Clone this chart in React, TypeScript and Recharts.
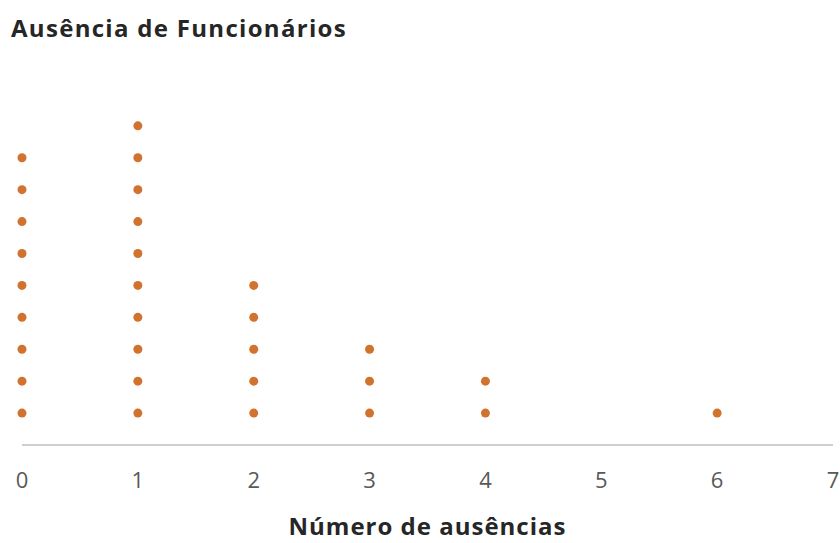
import React from 'react'
import { ScatterChart, Scatter, XAxis, YAxis, Label } from 'recharts'

// número de ausências e quantos funcionários tiveram cada um
const absences = [0, 1, 2, 3, 4, 5, 6, 7]
const employees = [9, 10, 5, 3, 2, 0, 1, 0]
const xTicks = [0, 1, 2, 3, 4, 5, 6, 7]

const dots: { x: number; y: number }[] = []
absences.forEach((a, i) => {
  for (let k = 1; k <= employees[i]; k++) dots.push({ x: a, y: k })
})

const font = '"Open Sans", "DejaVu Sans", sans-serif'

const Dot = (props: any) => (
  <circle cx={props.cx} cy={props.cy} r={4.5} fill="#D2722F" />
)

export default function App() {
  return (
    <div style={{ position: 'absolute', left: 0, top: 0, width: 840, height: 543, background: '#fff' }}>
      <div
        style={{
          position: 'absolute',
          left: 11,
          top: 12,
          fontFamily: font,
          fontWeight: 700,
          fontSize: 24,
          letterSpacing: 1.3,
          color: '#262626',
          lineHeight: '32px'
        }}
      >
        Ausência de Funcionários
      </div>
      <ScatterChart
        width={840}
        height={543}
        margin={{ top: 62, right: 7, bottom: 0, left: 22 }}
      >
        <XAxis
          type="number"
          dataKey="x"
          domain={[0, 7]}
          ticks={xTicks}
          interval={0}
          allowDecimals={false}
          height={98}
          tickLine={false}
          axisLine={{ stroke: '#BFBFBF', strokeWidth: 1.5 }}
          tick={{ fill: '#595959', fontSize: 22, fontFamily: font }}
          tickMargin={21}
        >
          <Label
            value="Número de ausências"
            position="insideBottom"
            offset={8}
            style={{ fill: '#262626', fontWeight: 700, fontSize: 24, letterSpacing: 1, fontFamily: font }}
          />
        </XAxis>
        <YAxis type="number" dataKey="y" domain={[0, 12]} hide width={0} />
        <Scatter data={dots} shape={Dot} isAnimationActive={false} />
      </ScatterChart>
    </div>
  )
}
